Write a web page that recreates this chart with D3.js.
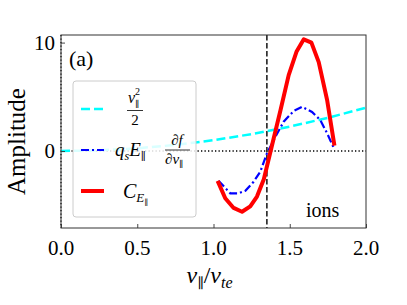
<!DOCTYPE html>
<html>
<head>
<meta charset="utf-8">
<script src="https://cdn.jsdelivr.net/npm/d3@7"></script>
<style>
  body { margin: 0; background: #fff; }
</style>
</head>
<body>
<div id="chart-area"></div>
<script>
// data
var cyanV   = [0, 0.25, 0.5, 0.75, 1.0, 1.25, 1.5, 1.75, 2.0];
var cyanVal = [0, 0.06, 0.25, 0.56, 1.0, 1.56, 2.25, 3.06, 4.0];

var blueV   = [1.033, 1.11, 1.165, 1.209, 1.263, 1.307, 1.351, 1.406, 1.46, 1.526, 1.581, 1.646, 1.70, 1.745, 1.793];
var blueVal = [-2.74, -3.9, -3.9, -3.66, -2.83, -1.9, -0.2, 1.32, 2.7, 3.7, 4.08, 3.6, 2.86, 1.63, 0.15];

var redV    = [1.027, 1.077, 1.132, 1.187, 1.241, 1.285, 1.33, 1.385, 1.44, 1.493, 1.544, 1.592, 1.642, 1.69, 1.745, 1.793];
var redVal  = [-2.75, -4.35, -5.25, -5.6, -5.1, -4.2, -2.6, 0.6, 3.8, 7.0, 9.15, 10.3, 10.0, 8.2, 4.7, 0.5];

var xTicks = [0, 0.5, 1.0, 1.5, 2.0];
var yTicks = [0, 10];
var vLine = 1.35;

var W = 407, H = 305;
var margin = {top: 35, right: 41, bottom: 77, left: 61};
var width = W - margin.left - margin.right,
    height = H - margin.top - margin.bottom;
var serif = "'Liberation Serif', 'DejaVu Serif', serif";

var root = d3.select("#chart-area").append("svg")
    .attr("width", W)
    .attr("height", H)
    .attr("font-family", serif)
    .style("font-family", serif);

var svg = root.append("g")
    .attr("transform", "translate(" + margin.left + "," + margin.top + ")");

var x = d3.scaleLinear().domain([0, 2]).range([0, width]);
var y = d3.scaleLinear().domain([-7.1, 10.7]).range([height, 0]);

var line = d3.line()
    .x(function(d) { return x(d[0]); })
    .y(function(d) { return y(d[1]); });

function pairs(a, b) {
  return a.map(function(v, i) { return [v, b[i]]; });
}

// reference lines
svg.append("line")
    .attr("x1", 0).attr("x2", width)
    .attr("y1", y(0)).attr("y2", y(0))
    .attr("stroke", "#000").attr("stroke-width", 1.3)
    .attr("stroke-dasharray", "1.3,2.2");
svg.append("line")
    .attr("x1", x(0)).attr("x2", x(0))
    .attr("y1", 0).attr("y2", height)
    .attr("stroke", "#000").attr("stroke-width", 1.3)
    .attr("stroke-dasharray", "1.3,2.2");
svg.append("line")
    .attr("x1", x(vLine)).attr("x2", x(vLine))
    .attr("y1", 0).attr("y2", height)
    .attr("stroke", "#222").attr("stroke-width", 1.6)
    .attr("stroke-dasharray", "5.5,2.5");

// curves
svg.append("path")
    .datum(pairs(cyanV, cyanVal))
    .attr("d", line)
    .attr("fill", "none")
    .attr("stroke", "#00ffff").attr("stroke-width", 2.5)
    .attr("stroke-dasharray", "9,4");

svg.append("path")
    .datum(pairs(blueV, blueVal))
    .attr("d", line)
    .attr("fill", "none")
    .attr("stroke", "#0000ff").attr("stroke-width", 2.2)
    .attr("stroke-dasharray", "8,3,2,3");

svg.append("path")
    .datum(pairs(redV, redVal))
    .attr("d", line)
    .attr("fill", "none")
    .attr("stroke", "#ff0000").attr("stroke-width", 4)
    .attr("stroke-linejoin", "round");

// axes (ticks point inward)
var xAxis = d3.axisTop(x).tickValues(xTicks).tickSize(4).tickFormat("");
svg.append("g").attr("transform", "translate(0," + height + ")").call(xAxis);
var yAxis = d3.axisRight(y).tickValues(yTicks).tickSize(4).tickFormat("");
svg.append("g").call(yAxis);
svg.selectAll(".domain").remove();
svg.selectAll(".tick line").attr("stroke", "#333").attr("stroke-width", 0.9);

svg.selectAll(".xlab").data(xTicks).enter().append("text")
    .attr("x", function(d) { return x(d); })
    .attr("y", height + 27)
    .attr("text-anchor", "middle")
    .style("font-size", "21px")
    .text(function(d) { return d.toFixed(1); });

svg.selectAll(".ylab").data(yTicks).enter().append("text")
    .attr("x", -6)
    .attr("y", function(d) { return y(d) + 7; })
    .attr("text-anchor", "end")
    .style("font-size", "21px")
    .text(function(d) { return d; });

// frame
svg.append("rect")
    .attr("width", width).attr("height", height)
    .attr("fill", "none").attr("stroke", "#333").attr("stroke-width", 1);

// legend
var leg = svg.append("g").attr("transform", "translate(12,46)");
leg.append("rect")
    .attr("width", 123).attr("height", 136)
    .attr("rx", 3)
    .attr("fill", "#fff").attr("fill-opacity", 0.85)
    .attr("stroke", "#ccc").attr("stroke-width", 1);

leg.append("line").attr("x1", 8).attr("x2", 31).attr("y1", 28).attr("y2", 28)
    .attr("stroke", "#00ffff").attr("stroke-width", 2.5).attr("stroke-dasharray", "9,4");
leg.append("line").attr("x1", 8).attr("x2", 31).attr("y1", 69).attr("y2", 69)
    .attr("stroke", "#0000ff").attr("stroke-width", 2.2).attr("stroke-dasharray", "8,3,2,3");
leg.append("line").attr("x1", 8).attr("x2", 31).attr("y1", 110).attr("y2", 110)
    .attr("stroke", "#ff0000").attr("stroke-width", 4);

// v_par^2 / 2
leg.append("text").attr("x", 55).attr("y", 22).style("font-size", "16px")
    .style("font-style", "italic").text("v");
leg.append("text").attr("x", 62).attr("y", 14).style("font-size", "10px").text("2");
leg.append("text").attr("x", 62).attr("y", 26).style("font-size", "9px").text("\u2225");
leg.append("line").attr("x1", 54).attr("x2", 70).attr("y1", 29.5).attr("y2", 29.5)
    .attr("stroke", "#000").attr("stroke-width", 0.8);
leg.append("text").attr("x", 62).attr("y", 44).attr("text-anchor", "middle")
    .style("font-size", "15px").text("2");

// q_s E_par df/dv_par
var t2 = leg.append("text").attr("x", 42).attr("y", 75).style("font-size", "19px");
t2.append("tspan").style("font-style", "italic").text("q");
t2.append("tspan").attr("dy", 4).style("font-size", "12px").style("font-style", "italic").text("s");
t2.append("tspan").attr("dy", -4).style("font-style", "italic").text("E");
t2.append("tspan").attr("dy", 4).style("font-size", "11px").text("\u2225");
leg.append("text").attr("x", 104).attr("y", 64).attr("text-anchor", "middle")
    .style("font-size", "15px").style("font-style", "italic").text("\u2202f");
leg.append("line").attr("x1", 92).attr("x2", 117).attr("y1", 69).attr("y2", 69)
    .attr("stroke", "#000").attr("stroke-width", 0.8);
var t3 = leg.append("text").attr("x", 92).attr("y", 83).style("font-size", "15px").style("font-style", "italic");
t3.append("tspan").text("\u2202v");
t3.append("tspan").attr("dy", 3).style("font-size", "9px").style("font-style", "normal").text("\u2225");

// C_E_par
var t4 = leg.append("text").attr("x", 50).attr("y", 117).style("font-size", "20px");
t4.append("tspan").style("font-style", "italic").text("C");
t4.append("tspan").attr("dy", 4).style("font-size", "13px").style("font-style", "italic").text("E");
t4.append("tspan").attr("dy", 3).style("font-size", "8px").text("\u2225");

// annotations
svg.append("text").attr("x", 8).attr("y", 31)
    .style("font-size", "22px").text("(a)");
svg.append("text").attr("x", 245).attr("y", 182)
    .style("font-size", "20px").text("ions");

// axis titles
var xt = svg.append("text")
    .attr("x", width / 2 - 4).attr("y", height + 55)
    .attr("text-anchor", "middle")
    .style("font-size", "24px");
xt.append("tspan").style("font-style", "italic").text("v");
xt.append("tspan").attr("dy", 5).style("font-size", "14px").text("\u2225");
xt.append("tspan").attr("dy", -5).text("/");
xt.append("tspan").style("font-style", "italic").text("v");
xt.append("tspan").attr("dy", 5).style("font-size", "16px").style("font-style", "italic").text("te");

svg.append("text")
    .attr("transform", "translate(-36," + (height / 2 + 10) + ") rotate(-90)")
    .attr("text-anchor", "middle")
    .style("font-size", "25px")
    .text("Amplitude");
</script>
</body>
</html>
